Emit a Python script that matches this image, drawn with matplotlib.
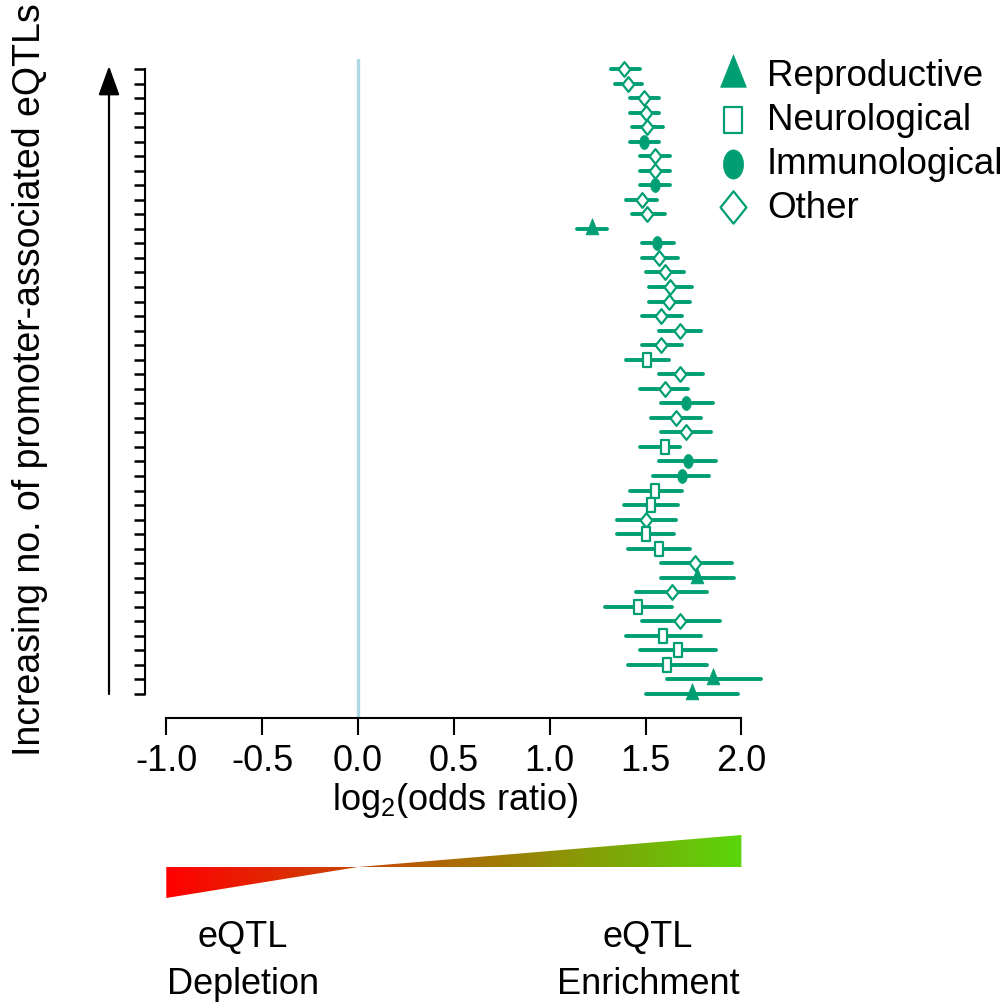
import numpy as np
import matplotlib
matplotlib.use("Agg")
import matplotlib.pyplot as plt
from matplotlib.path import Path
from matplotlib.patches import PathPatch

plt.rcParams['font.family'] = ['Liberation Sans', 'DejaVu Sans']
plt.rcParams['mathtext.fontset'] = 'custom'
plt.rcParams['mathtext.rm'] = 'Liberation Sans'
plt.rcParams['mathtext.it'] = 'Liberation Sans'

# ---- data (top row first) ----
categories = ["O", "O", "O", "O", "O", "I", "O", "O", "I", "O", "O", "R", "I", "O",
              "O", "O", "O", "O", "O", "O", "N", "O", "O", "I", "O", "O", "N", "I",
              "I", "N", "N", "O", "N", "N", "O", "R", "O", "N", "O", "N", "N", "N",
              "R", "R"]
log2_or = [1.39, 1.41, 1.49, 1.50, 1.51, 1.49, 1.55, 1.55, 1.55, 1.48, 1.51, 1.22,
           1.56, 1.57, 1.60, 1.63, 1.62, 1.58, 1.68, 1.58, 1.51, 1.68, 1.60, 1.71,
           1.66, 1.71, 1.60, 1.72, 1.69, 1.55, 1.53, 1.50, 1.50, 1.57, 1.76, 1.77,
           1.64, 1.46, 1.68, 1.59, 1.67, 1.61, 1.85, 1.74]
ci_low = [1.32, 1.34, 1.42, 1.42, 1.43, 1.42, 1.47, 1.47, 1.47, 1.40, 1.43, 1.14,
          1.48, 1.48, 1.50, 1.52, 1.52, 1.48, 1.57, 1.48, 1.40, 1.57, 1.47, 1.58,
          1.53, 1.58, 1.47, 1.57, 1.54, 1.42, 1.39, 1.35, 1.35, 1.41, 1.58, 1.58,
          1.45, 1.29, 1.48, 1.40, 1.47, 1.41, 1.61, 1.50]
ci_high = [1.47, 1.48, 1.57, 1.57, 1.59, 1.57, 1.63, 1.63, 1.63, 1.56, 1.60, 1.30,
           1.65, 1.67, 1.70, 1.74, 1.73, 1.69, 1.79, 1.69, 1.62, 1.80, 1.72, 1.85,
           1.79, 1.84, 1.68, 1.87, 1.83, 1.69, 1.67, 1.66, 1.65, 1.73, 1.95, 1.96,
           1.82, 1.64, 1.89, 1.79, 1.87, 1.82, 2.10, 1.98]
legend_names = {"R": "Reproductive", "N": "Neurological", "I": "Immunological", "O": "Other"}
legend_order = ["R", "N", "I", "O"]
xticks = [-1.0, -0.5, 0.0, 0.5, 1.0, 1.5, 2.0]

GREEN = "#009E73"

# ---- marker shapes (tall, as in the reference) ----
def poly(verts):
    verts = list(verts) + [verts[0]]
    codes = [Path.MOVETO] + [Path.LINETO] * (len(verts) - 2) + [Path.CLOSEPOLY]
    return Path(verts, codes)

tri_path = poly([(0, 1), (0.6, -0.5), (-0.6, -0.5)])
sq_path = poly([(-0.66, -1), (0.66, -1), (0.66, 1), (-0.66, 1)])
dia_path = poly([(0, 1), (0.8, 0), (0, -1), (-0.8, 0)])
t = np.linspace(0, 2 * np.pi, 60)
ell_path = Path(np.column_stack([0.69 * np.cos(t), np.sin(t)]))

mstyle = {
    "R": dict(marker=tri_path, ms=15.5, mfc=GREEN, mec=GREEN, mew=0.5),
    "N": dict(marker=sq_path, ms=9.6, mfc="white", mec=GREEN, mew=1.6),
    "I": dict(marker=ell_path, ms=10.0, mfc=GREEN, mec=GREEN, mew=0.5),
    "O": dict(marker=dia_path, ms=10.6, mfc="white", mec=GREEN, mew=1.6),
}

W, H = 1007, 1004
fig = plt.figure(figsize=(W / 100, H / 100), dpi=100)

# main axes: pixel geometry
ax_l, ax_r, ax_t, ax_b = 145, 764, 60, 719
ax = fig.add_axes([ax_l / W, 1 - ax_b / H, (ax_r - ax_l) / W, (ax_b - ax_t) / H])
px_per_unit = 191.7
x0_px = 358
ax.set_xlim((ax_l - x0_px) / px_per_unit, (ax_r - x0_px) / px_per_unit)
n = len(log2_or)
ypx_top, ypx_bot = 70, 695
yunit = (ypx_bot - ypx_top) / (n - 1)
ax.set_ylim(-(ax_b - ypx_bot) / yunit, (n - 1) + (ypx_top - ax_t) / yunit)

ys = np.arange(n - 1, -1, -1)

ax.axvline(0, color="#ADD8E6", lw=2.4, zorder=1)

for y, v, lo, hi, c in zip(ys, log2_or, ci_low, ci_high, categories):
    ax.plot([lo, hi], [y, y], color=GREEN, lw=2.8, solid_capstyle="round", zorder=2)
    ax.plot([v], [y], linestyle="none", zorder=3, **mstyle[c])

for s in ["top", "right"]:
    ax.spines[s].set_visible(False)
ax.spines["bottom"].set_bounds(-1, 2)
ax.spines["left"].set_bounds(0, n - 1)
ax.spines["bottom"].set_linewidth(1.5)
ax.spines["left"].set_linewidth(1.5)
ax.set_xticks(xticks)
ax.set_xticklabels([f"{v:.1f}" for v in xticks], fontsize=26)
ax.tick_params(axis="x", length=12, width=1.5, pad=6)
ax.set_yticks(ys)
ax.set_yticklabels([])
ax.tick_params(axis="y", length=8, width=1.8)
ax.patch.set_visible(False)

# gradient axes aligned on the same x-scale
g_t, g_b = 826, 910
gax = fig.add_axes([ax_l / W, 1 - g_b / H, (ax_r - ax_l) / W, (g_b - g_t) / H])
gax.set_xlim(ax.get_xlim())
base_px = 868
gax.set_ylim(-(g_b - base_px), (base_px - g_t))
gax.axis("off")
left_tri = poly([(-1, 0), (-1, -31), (0, 0)])
right_tri = poly([(0, 0), (2, 32), (2, 0)])
c_left = np.array([255, 0, 0]) / 255
c_right = np.array([90, 214, 10]) / 255
xs = np.linspace(0, 1, 400)
grad = (c_left[None, :] * (1 - xs[:, None]) + c_right[None, :] * xs[:, None])[None, :, :]
for p in (left_tri, right_tri):
    im = gax.imshow(grad, extent=[-1, 2, -40, 40], aspect="auto", interpolation="bilinear")
    patch = PathPatch(p, facecolor="none", edgecolor="none")
    gax.add_patch(patch)
    im.set_clip_path(patch)

# overlay axes in pixel coordinates for annotations
ov = fig.add_axes([0, 0, 1, 1])
ov.set_xlim(0, W)
ov.set_ylim(H, 0)
ov.axis("off")
ov.patch.set_visible(False)

ov.annotate("", xy=(109, 67), xytext=(109, 695),
            arrowprops=dict(arrowstyle="-|>,head_length=1.8,head_width=0.65",
                            color="black", lw=1.6, shrinkA=0, shrinkB=0))

ov.text(30, 380, "Increasing no. of promoter-associated eQTLs", rotation=90,
        ha="center", va="center", fontsize=27)
ov.text(455, 801, r"log$_2$(odds ratio)", ha="center", va="center", fontsize=26)

ov.text(243, 938, "eQTL", ha="center", va="center", fontsize=26)
ov.text(243, 985, "Depletion", ha="center", va="center", fontsize=26)
ov.text(648, 938, "eQTL", ha="center", va="center", fontsize=26)
ov.text(648, 985, "Enrichment", ha="center", va="center", fontsize=26)

# legend
leg_y = [77, 121, 165, 208]
leg_scale = {"R": 2.0, "N": 2.0, "I": 2.1, "O": 2.2}
for key, ly in zip(legend_order, leg_y):
    st = dict(mstyle[key])
    st["ms"] = st["ms"] * leg_scale[key]
    ov.plot([733], [ly], linestyle="none", **st)
    ov.text(767, ly, legend_names[key], ha="left", va="center", fontsize=26.5)

fig.savefig("out.png", dpi=100)
